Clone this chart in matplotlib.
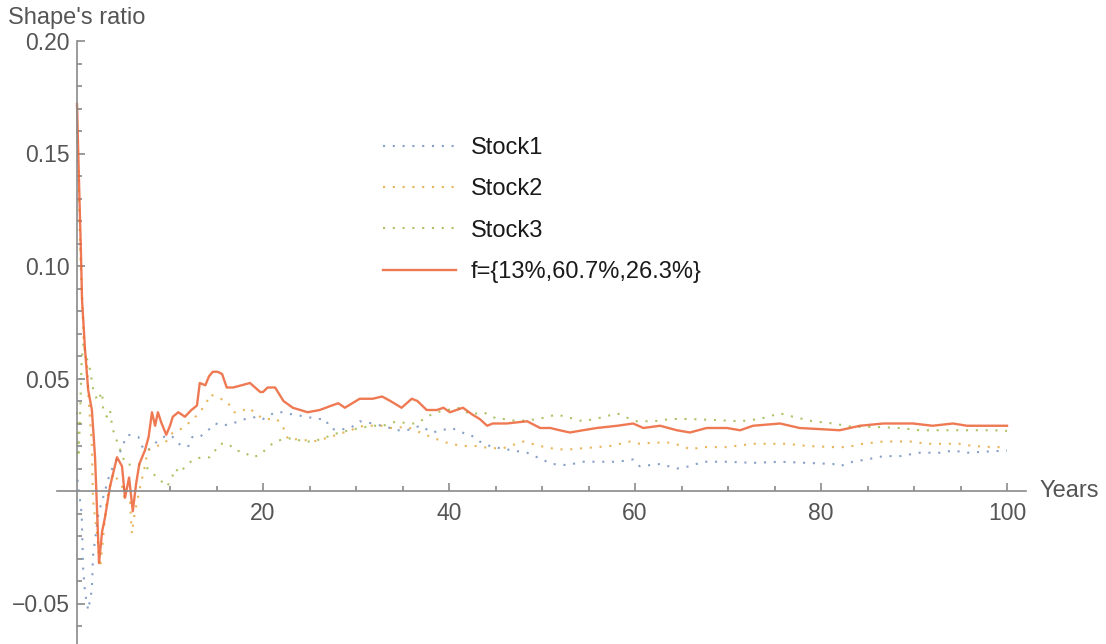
import matplotlib
matplotlib.use("Agg")
import matplotlib.pyplot as plt
from matplotlib.ticker import FixedLocator, FuncFormatter

# --- Sharpe ratio paths over time ---
stock1_t = [0.05, 0.5, 0.65, 0.86, 1.2, 1.6, 1.72, 2.3, 2.8, 3.55, 4.4, 5.2, 5.5, 6.6, 7.2, 7.6,
            8.6, 9.7, 10.3, 11.2, 12.0, 12.4, 13.2, 14.1, 14.9, 15.6, 16.7, 18.1, 19.4, 20.0,
            21.3, 22.0, 23.2, 24.7, 25.8, 26.7, 27.2, 27.9, 29.4, 30.4, 31.8, 33.7, 34.4, 35.5,
            36.9, 38.2, 39.2, 40.3, 41.4, 42.3, 43.3, 44.4, 45.5, 46.9, 48.4, 50.0, 51.1, 52.7,
            54.4, 56.6, 58.1, 59.8, 60.5, 62.7, 64.5, 65.9, 67.3, 69.9, 72.7, 75.6, 78.5, 81.3,
            82.0, 83.4, 84.9, 86.7, 88.5, 90.6, 92.8, 94.2, 95.7, 97.8, 100]
stock1 = [0.005, -0.010, -0.034, -0.045, -0.053, -0.044, -0.029, -0.010, -0.003, 0.008, 0.015,
          0.023, 0.025, 0.024, 0.018, 0.018, 0.022, 0.025, 0.024, 0.020, 0.020, 0.024, 0.024,
          0.027, 0.030, 0.029, 0.030, 0.032, 0.033, 0.032, 0.035, 0.035, 0.034, 0.033, 0.032,
          0.032, 0.028, 0.027, 0.028, 0.031, 0.030, 0.028, 0.027, 0.027, 0.029, 0.026, 0.027,
          0.028, 0.026, 0.025, 0.022, 0.020, 0.019, 0.018, 0.017, 0.014, 0.012, 0.0115, 0.013,
          0.013, 0.013, 0.014, 0.011, 0.012, 0.010, 0.011, 0.013, 0.013, 0.0125, 0.013, 0.0125,
          0.012, 0.011, 0.013, 0.014, 0.0155, 0.0155, 0.017, 0.017, 0.018, 0.017, 0.0175, 0.018]

stock2_t = [0.0, 0.4, 0.6, 0.7, 1.1, 1.2, 1.6, 1.72, 2.15, 2.5, 3.2, 3.9, 4.84, 5.16, 5.7, 5.9,
            6.2, 6.8, 7.3, 7.6, 8.6, 9.4, 10.3, 11.4, 12.5, 13.2, 13.9, 14.3, 15.4, 16.1, 16.9,
            17.5, 18.4, 19.1, 20.0, 21.5, 22.2, 22.7, 24.0, 25.4, 26.4, 27.2, 29.4, 30.8, 32.9,
            33.7, 35.5, 36.9, 38.7, 40.1, 41.5, 43.0, 44.4, 45.8, 48.0, 49.8, 51.6, 53.0, 54.4,
            55.9, 57.3, 59.5, 60.5, 62.0, 63.9, 65.4, 65.9, 67.3, 69.9, 72.7, 74.8, 76.3, 78.5,
            81.3, 82.8, 84.5, 86.7, 89.6, 91.4, 93.5, 94.9, 96.3, 98.5, 100]
stock2 = [0.16, 0.10, 0.082, 0.067, 0.055, 0.044, 0.020, -0.004, -0.019, -0.034, -0.004, 0.008,
          0.002, -0.004, -0.005, -0.019, -0.010, 0.002, 0.011, 0.018, 0.020, 0.021, 0.026, 0.028,
          0.032, 0.035, 0.039, 0.043, 0.041, 0.040, 0.035, 0.035, 0.037, 0.035, 0.032, 0.032,
          0.028, 0.023, 0.023, 0.022, 0.023, 0.024, 0.027, 0.029, 0.029, 0.028, 0.0285, 0.026,
          0.023, 0.021, 0.020, 0.020, 0.019, 0.019, 0.022, 0.020, 0.0185, 0.0185, 0.019, 0.0195,
          0.020, 0.022, 0.021, 0.0215, 0.0215, 0.0195, 0.0185, 0.0195, 0.0195, 0.021, 0.021,
          0.021, 0.020, 0.0195, 0.0195, 0.021, 0.022, 0.022, 0.021, 0.021, 0.021, 0.020, 0.0195,
          0.0195]

stock3_t = [0.0, 0.15, 0.3, 0.5, 0.7, 0.9, 1.2, 1.4, 1.7, 2.2, 2.7, 2.8, 3.2, 3.55, 3.8, 4.4,
            5.2, 6.0, 7.1, 8.1, 8.9, 9.7, 10.2, 10.6, 11.0, 11.8, 12.5, 13.4, 14.3, 15.4, 16.3,
            17.0, 17.9, 18.8, 19.7, 20.4, 21.3, 22.2, 23.2, 24.3, 25.4, 26.5, 27.5, 28.2, 30.4,
            31.8, 32.9, 34.4, 35.5, 36.6, 37.6, 38.7, 39.8, 41.2, 42.3, 43.7, 45.2, 46.2, 47.3,
            48.7, 50.1, 51.6, 53.0, 54.4, 56.2, 58.1, 59.2, 60.2, 62.0, 63.9, 65.9, 68.8, 71.3,
            73.4, 75.6, 77.0, 79.1, 81.3, 83.4, 85.6, 88.5, 90.6, 93.5, 95.7, 98.5, 100]
stock3 = [0.035, 0.015, 0.030, 0.058, 0.066, 0.061, 0.057, 0.054, 0.046, 0.040, 0.044, 0.037,
          0.033, 0.036, 0.028, 0.021, 0.012, 0.0115, 0.012, 0.008, 0.005, 0.002, 0.006, 0.010,
          0.008, 0.0115, 0.014, 0.015, 0.015, 0.021, 0.021, 0.018, 0.0175, 0.015, 0.016, 0.019,
          0.022, 0.023, 0.0235, 0.022, 0.022, 0.0235, 0.025, 0.026, 0.028, 0.029, 0.029, 0.031,
          0.030, 0.030, 0.033, 0.035, 0.036, 0.037, 0.034, 0.035, 0.032, 0.032, 0.031, 0.0315,
          0.0325, 0.034, 0.0325, 0.031, 0.0325, 0.0345, 0.0325, 0.031, 0.031, 0.032, 0.032,
          0.0315, 0.031, 0.032, 0.0345, 0.033, 0.031, 0.030, 0.0285, 0.0285, 0.028, 0.027, 0.027,
          0.027, 0.027, 0.0267]

mix_t = [0.0, 0.2, 0.43, 0.54, 0.86, 1.2, 1.6, 1.94, 2.37, 2.7, 3.0, 3.55, 4.3, 4.84, 5.16, 5.6,
         6.0, 6.35, 6.7, 7.3, 7.7, 8.06, 8.4, 8.7, 9.1, 9.6, 10.0, 10.3, 10.9, 11.6, 12.3, 12.9,
         13.2, 13.8, 14.2, 14.6, 15.1, 15.6, 16.1, 16.8, 17.7, 18.6, 19.7, 20.0, 20.5, 21.3, 22.2,
         23.2, 24.0, 24.8, 26.1, 27.4, 28.1, 28.8, 29.6, 30.4, 31.8, 32.8, 33.7, 34.9, 36.0,
         36.6, 37.6, 38.7, 39.4, 40.1, 41.5, 42.5, 43.3, 44.1, 44.7, 46.2, 48.4, 49.8, 50.9,
         51.9, 53.0, 54.4, 55.9, 58.1, 59.8, 60.9, 62.7, 64.5, 65.9, 67.7, 69.9, 71.3, 72.7,
         75.6, 77.7, 79.9, 82.0, 84.2, 86.7, 88.5, 89.9, 92.0, 94.2, 95.7, 97.4, 100]
mix = [0.172, 0.14, 0.105, 0.085, 0.063, 0.045, 0.036, 0.015, -0.032, -0.018, -0.012, 0.002,
       0.015, 0.011, -0.003, 0.006, -0.009, 0.003, 0.012, 0.018, 0.024, 0.035, 0.029, 0.035,
       0.030, 0.025, 0.029, 0.033, 0.035, 0.033, 0.036, 0.038, 0.048, 0.047, 0.051, 0.053, 0.053,
       0.052, 0.046, 0.046, 0.047, 0.048, 0.044, 0.044, 0.046, 0.046, 0.040, 0.037, 0.036, 0.035,
       0.036, 0.038, 0.039, 0.037, 0.039, 0.041, 0.041, 0.042, 0.040, 0.037, 0.041, 0.040, 0.036,
       0.036, 0.037, 0.035, 0.037, 0.034, 0.032, 0.029, 0.030, 0.030, 0.031, 0.028, 0.028, 0.027,
       0.026, 0.027, 0.028, 0.029, 0.030, 0.028, 0.029, 0.027, 0.026, 0.028, 0.028, 0.027, 0.029,
       0.030, 0.028, 0.0275, 0.027, 0.029, 0.030, 0.030, 0.030, 0.029, 0.030, 0.029, 0.029, 0.029]

labels = ["Stock1", "Stock2", "Stock3", "f={13%,60.7%,26.3%}"]
colors = ["#5E81B5", "#E19C24", "#8FB032", "#EB6235"]

plt.rcParams["font.family"] = ["Liberation Sans", "DejaVu Sans"]
axis_gray = "#8a8a8a"
text_gray = "#555555"

fig = plt.figure(figsize=(11.06, 6.44), dpi=100)
ax = fig.add_axes([0, 0, 1, 1])
ax.set_xlim(-77 / 9.3, (1106 - 77) / 9.3)
ax.set_ylim(-(644 - 491) / 2250, 491 / 2250)

dots = (0, (1, 3.7))
for t, v, lab, col in zip([stock1_t, stock2_t, stock3_t], [stock1, stock2, stock3], labels, colors):
    ax.plot(t, v, color=col, lw=1.5, linestyle=dots, alpha=0.75, label=lab)
ax.plot(mix_t, mix, color=colors[3], lw=1.7, alpha=0.85, label=labels[3])

# axes crossing at the origin
for side in ["top", "right"]:
    ax.spines[side].set_visible(False)
ax.spines["left"].set_position(("data", 0))
ax.spines["bottom"].set_position(("data", 0))
ax.spines["left"].set_bounds(-0.07, 0.2)
ax.spines["bottom"].set_bounds(-2.2, 102)
for side in ["left", "bottom"]:
    ax.spines[side].set_color(axis_gray)
    ax.spines[side].set_linewidth(1.2)

ax.xaxis.set_major_locator(FixedLocator([20, 40, 60, 80, 100]))
ax.xaxis.set_minor_locator(FixedLocator([v for v in range(5, 101, 5) if v % 20]))
ax.yaxis.set_major_locator(FixedLocator([-0.05, 0.05, 0.10, 0.15, 0.20]))
ax.yaxis.set_minor_locator(FixedLocator([i / 100 for i in range(-6, 20) if i % 5]))
ax.yaxis.set_major_formatter(FuncFormatter(lambda v, p: f"{v:.2f}".replace("-", "\u2212")))

ax.tick_params(which="both", direction="in", color=axis_gray, width=1.2,
               labelsize=16.5, labelcolor=text_gray)
ax.tick_params(which="major", length=6)
ax.tick_params(which="minor", length=3.5)
ax.tick_params(axis="x", pad=8)
ax.tick_params(axis="y", pad=5)

ax.text(103.5, 0, "Years", fontsize=17, color=text_gray, va="center", ha="left")
fig.text(8 / 1106, 1 - 18 / 644, "Shape's ratio", fontsize=17, color=text_gray,
         va="center", ha="left")

ax.legend(loc="upper left", bbox_to_anchor=(383 / 1106, 1 - 137 / 644),
          bbox_transform=fig.transFigure, frameon=False, fontsize=17,
          handlelength=3.1, handletextpad=0.62, labelspacing=0.82, borderpad=0,
          borderaxespad=0, labelcolor="#1a1a1a")

fig.savefig("out.png", dpi=100)
